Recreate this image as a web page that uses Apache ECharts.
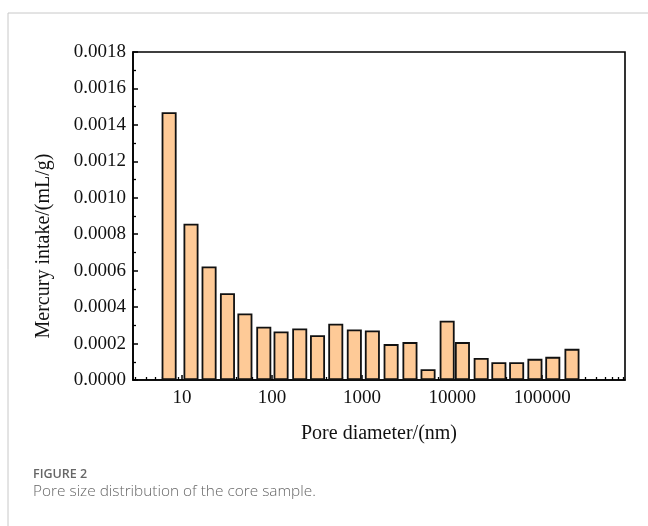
<!DOCTYPE html>
<html>
<head>
<meta charset="utf-8">
<script src="https://cdn.jsdelivr.net/npm/echarts@6/dist/echarts.min.js"></script>
<style>
html,body{margin:0;padding:0;background:#fff;}
#chart{width:648px;height:526px;}
</style>
</head>
<body>
<div id="chart"></div>
<script>
// Pore diameter (nm), bar centres on the log axis
const poreDiameters = [7.2, 12.6, 20, 32, 50, 81, 126, 203, 320, 510, 820, 1300, 2100, 3400, 5400, 8800, 13000, 21000, 33000, 52000, 83000, 131000, 214000];
// Mercury intake (mL/g)
const mercuryIntake = [0.001469, 0.000858, 0.000623, 0.000476, 0.000365, 0.000292, 0.000266, 0.000283, 0.000246, 0.000309, 0.000277, 0.000272, 0.000197, 0.000208, 0.000059, 0.000325, 0.000208, 0.000121, 0.0000975, 0.0000975, 0.000116, 0.000127, 0.000171];
const xTickLabels = [10, 100, 1000, 10000, 100000];
const xMinorMultipliers = [2, 3, 4, 5, 6, 7, 8, 9];
const xName = 'Pore diameter/(nm)';
const yName = 'Mercury intake/(mL/g)';
const figLabel = 'FIGURE 2';
const figCaption = 'Pore size distribution of the core sample.';

const X_MIN = 2.86, X_MAX = 830000;
const minorTicks = [];
[1, 10, 100, 1000, 10000, 100000].forEach(function (dec) {
  xMinorMultipliers.forEach(function (m) {
    const v = dec * m;
    if (v > X_MIN && v < X_MAX) minorTicks.push(v);
  });
});

const chart = echarts.init(document.getElementById('chart'), null, {renderer: 'canvas'});
const serif = 'Liberation Serif';
const option = {
  backgroundColor: '#fff',
  animation: false,
  grid: {left: 133, top: 52, right: 23, bottom: 146, show: true, borderColor: '#000', borderWidth: 1.6, backgroundColor: 'transparent'},
  xAxis: [{
    type: 'log',
    logBase: 10,
    min: X_MIN,
    max: X_MAX,
    position: 'bottom',
    name: xName,
    nameLocation: 'middle',
    nameGap: 44,
    nameTextStyle: {fontFamily: serif, fontSize: 20, color: '#111'},
    axisLine: {show: true, lineStyle: {color: '#000', width: 1.6}},
    axisTick: {show: true, inside: true, length: 5, customValues: xTickLabels, lineStyle: {color: '#000', width: 1.5}},
    splitLine: {show: false},
    axisLabel: {
      fontFamily: serif, fontSize: 19, color: '#111', margin: 9,
      customValues: xTickLabels,
      formatter: function (v) { return String(Math.round(v)); }
    }
  }, {
    type: 'log',
    logBase: 10,
    min: X_MIN,
    max: X_MAX,
    position: 'bottom',
    offset: 0,
    axisLine: {show: false},
    axisTick: {show: true, inside: true, length: 3, customValues: minorTicks, lineStyle: {color: '#000', width: 1.3}},
    axisLabel: {show: false},
    splitLine: {show: false}
  }],
  yAxis: {
    type: 'value',
    min: 0,
    max: 0.0018,
    interval: 0.0002,
    axisLine: {show: true, lineStyle: {color: '#000', width: 1.6}},
    axisTick: {show: true, inside: true, length: 5, lineStyle: {color: '#000', width: 1.5}},
    minorTick: {show: true, splitNumber: 2, length: 3, lineStyle: {color: '#000', width: 1.3}},
    splitLine: {show: false},
    axisLabel: {
      fontFamily: serif, fontSize: 19, color: '#111', margin: 7,
      formatter: function (v) { return v.toFixed(4); }
    }
  },
  series: [{
    type: 'bar',
    xAxisIndex: 0,
    barWidth: 15,
    data: poreDiameters.map((d, i) => [d, mercuryIntake[i]]),
    itemStyle: {color: '#FECA97', borderColor: '#111', borderWidth: 1.8}
  }],
  graphic: [
    {type: 'line', shape: {x1: 8, y1: 13, x2: 648, y2: 13}, style: {stroke: '#c8c8c8', lineWidth: 1}},
    {type: 'line', shape: {x1: 8, y1: 13, x2: 8, y2: 526}, style: {stroke: '#c8c8c8', lineWidth: 1}},
    {type: 'text', x: 44, y: 246, rotation: Math.PI / 2,
      style: {text: yName, font: '20px "Liberation Serif"', fill: '#111', align: 'center', verticalAlign: 'middle'}},
    {type: 'text', left: 33, top: 468, style: {text: figLabel, font: '600 12.5px "Open Sans"', fill: '#666'}},
    {type: 'text', left: 33, top: 484, style: {text: figCaption, font: '300 15.4px "Open Sans"', fill: '#666'}}
  ]
};
chart.setOption(option);
</script>
</body>
</html>
